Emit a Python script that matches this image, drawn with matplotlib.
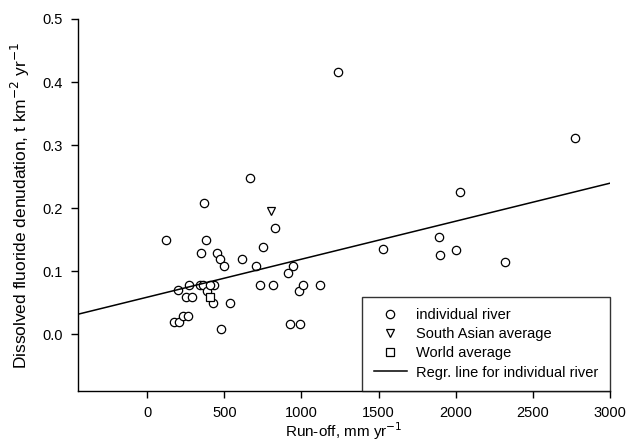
import numpy as np
import matplotlib
matplotlib.use('Agg')
import matplotlib.pyplot as plt

plt.rcParams['font.family'] = ['Liberation Sans', 'DejaVu Sans']

# individual rivers: run-off (mm/yr) and fluoride denudation (t/km2/yr)
river_runoff = [119, 370, 667, 829, 379, 346, 452, 474, 496, 615, 749, 706,
                729, 814, 944, 914, 983, 1013, 1120, 924, 989, 476, 537,
                197, 268, 251, 288, 342, 364, 388, 431, 424, 175, 208, 234,
                262, 405, 1240, 2775, 2026, 1894, 1896, 2005, 1528, 2323]
river_denud = [0.149, 0.208, 0.248, 0.168, 0.149, 0.129, 0.129, 0.119, 0.108,
               0.119, 0.138, 0.108, 0.078, 0.078, 0.108, 0.098, 0.068, 0.078,
               0.078, 0.017, 0.017, 0.009, 0.049, 0.070, 0.079, 0.060, 0.060,
               0.079, 0.079, 0.069, 0.079, 0.049, 0.019, 0.019, 0.029, 0.029,
               0.079, 0.416, 0.312, 0.225, 0.155, 0.126, 0.134, 0.136, 0.114]

south_asia = (803, 0.196)
world = (409, 0.059)

# regression line for individual rivers
regr_intercept = 0.059
regr_slope = 6.02e-5

fig = plt.figure(figsize=(6.28, 4.41), dpi=100)
ax = fig.add_axes([0.124, 0.113, 0.847, 0.844])

ax.plot(river_runoff, river_denud, 'o', ms=6, mfc='white', mec='black',
        mew=0.9, ls='none', label='individual river')
ax.plot([south_asia[0]], [south_asia[1]], 'v', ms=6, mfc='white', mec='black',
        mew=0.9, ls='none', label='South Asian average')
ax.plot([world[0]], [world[1]], 's', ms=5.5, mfc='white', mec='black',
        mew=0.9, ls='none', label='World average')

xl = np.array([-450, 3000])
ax.plot(xl, regr_intercept + regr_slope * xl, color='black', lw=1.1,
        label='Regr. line for individual river')

ax.set_xlim(-450, 3000)
ax.set_ylim(-0.09, 0.5)
ax.set_xticks([0, 500, 1000, 1500, 2000, 2500, 3000])
ax.set_yticks([0.0, 0.1, 0.2, 0.3, 0.4, 0.5])
ax.set_yticklabels(['0.0', '0.1', '0.2', '0.3', '0.4', '0.5'])
ax.tick_params(direction='out', length=5, width=1, labelsize=10.5, pad=6)
ax.tick_params(axis='x', pad=6)

ax.spines['top'].set_visible(False)
ax.spines['right'].set_visible(False)
ax.spines['left'].set_linewidth(1)
ax.spines['bottom'].set_linewidth(1)

ax.set_xlabel('Run-off, mm yr$^{-1}$', fontsize=11, labelpad=0)
ax.set_ylabel('Dissolved fluoride denudation, t km$^{-2}$ yr$^{-1}$',
              fontsize=12.5, labelpad=7)

leg = ax.legend(loc='lower right', borderaxespad=0, fontsize=10.5,
                frameon=True, fancybox=False, handlelength=2.3,
                handletextpad=0.6, labelspacing=0.35, borderpad=0.8)
leg.get_frame().set_edgecolor('black')
leg.get_frame().set_linewidth(1)

fig.savefig('out.png', dpi=100)
